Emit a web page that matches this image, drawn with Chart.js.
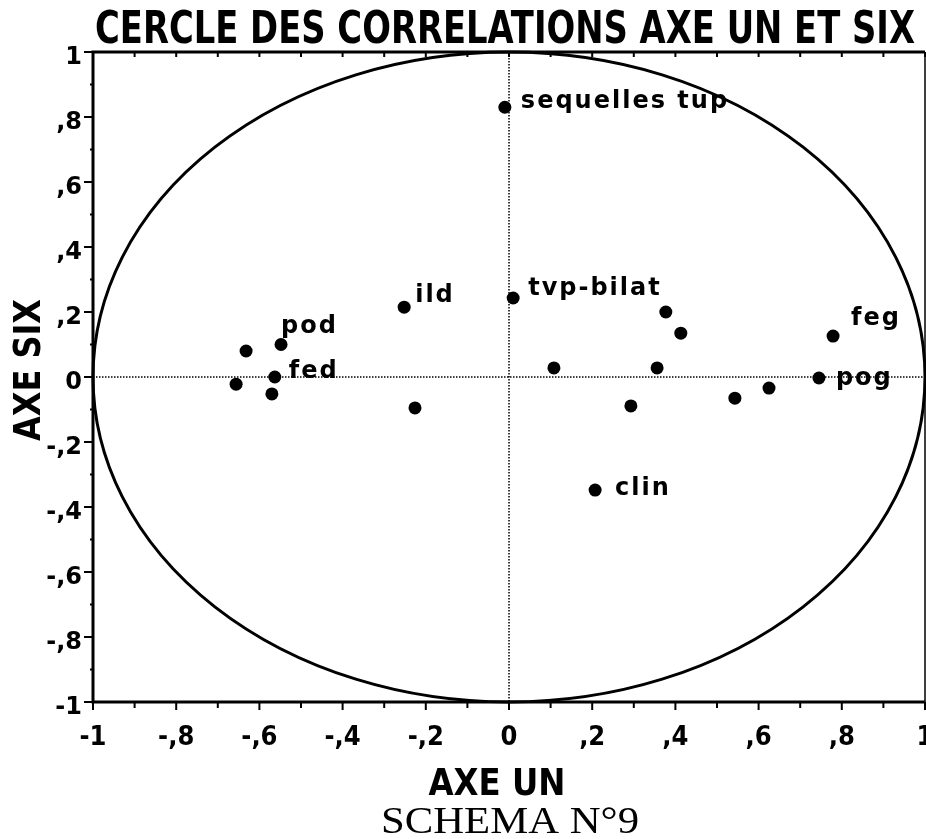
<!DOCTYPE html>
<html>
<head>
<meta charset="utf-8">
<script src="https://cdn.jsdelivr.net/npm/chart.js@4/dist/chart.umd.min.js"></script>
<style>
html,body{margin:0;padding:0;background:#fff;}
#c{display:block;}
</style>
</head>
<body>
<canvas id="c" width="926" height="839"></canvas>
<script>
// ---- data ----
const pointNames = ['sequelles tup','tvp-bilat','ild','pod','','fed','','','','','','','','','','','pog','feg','clin'];
const axeUn  = [-0.01, 0.01, -0.252, -0.548, -0.632, -0.563, -0.656, -0.570, -0.226, 0.108, 0.377, 0.413, 0.356, 0.293, 0.543, 0.625, 0.745, 0.779, 0.207];
const axeSix = [0.83, 0.243, 0.215, 0.10, 0.08, 0.0, -0.022, -0.052, -0.095, 0.028, 0.20, 0.135, 0.028, -0.089, -0.065, -0.034, -0.003, 0.126, -0.348];
const tickValues = [-1, -0.8, -0.6, -0.4, -0.2, 0, 0.2, 0.4, 0.6, 0.8, 1];
const xTickLabels = ['-1','-,8','-,6','-,4','-,2','0',',2',',4',',6',',8','1'];
const yTickLabels = ['-1','-,8','-,6','-,4','-,2','0',',2',',4',',6',',8','1'];
const titleText = 'CERCLE DES CORRELATIONS AXE UN ET SIX';
const xTitle = 'AXE UN';
const yTitle = 'AXE SIX';
const captionText = 'SCHEMA N°9';

// label placement (pixel offsets from the point: text left, baseline)
const labelOffsets = {
  'sequelles tup':[16,1], 'tvp-bilat':[15,-3], 'ild':[11,-5], 'pod':[0,-12],
  'fed':[14,1], 'feg':[18,-11], 'pog':[17,7], 'clin':[20,5]
};

const points = axeUn.map((x,i)=>({x:x, y:axeSix[i], name:pointNames[i]}));

function fitText(ctx, text, x, y, targetW, align){
  const w = ctx.measureText(text).width;
  const sx = targetW / w;
  ctx.save();
  ctx.translate(x, y);
  ctx.scale(sx, 1);
  ctx.textAlign = align || 'center';
  ctx.fillText(text, 0, 0);
  ctx.restore();
}

const decor = {
  id:'decor',
  beforeDatasetsDraw(chart){
    const ctx = chart.ctx, xs = chart.scales.x, ys = chart.scales.y;
    const ca = chart.chartArea;
    ctx.save();
    ctx.strokeStyle = '#000';
    ctx.lineWidth = 1.5;
    ctx.setLineDash([1.5,1.5]);
    const x0 = xs.getPixelForValue(0), y0 = ys.getPixelForValue(0);
    ctx.beginPath();
    ctx.moveTo(ca.left, y0); ctx.lineTo(ca.right, y0);
    ctx.moveTo(x0, ca.top); ctx.lineTo(x0, ca.bottom);
    ctx.stroke();
    ctx.setLineDash([]);
    const rx = xs.getPixelForValue(1) - x0;
    const ry = ys.getPixelForValue(-1) - y0;
    ctx.lineWidth = 3;
    ctx.beginPath();
    ctx.ellipse(x0, y0, rx, ry, 0, 0, Math.PI*2);
    ctx.stroke();
    ctx.restore();
  },
  afterDraw(chart){
    const ctx = chart.ctx, xs = chart.scales.x, ys = chart.scales.y;
    const ca = chart.chartArea;
    ctx.save();
    ctx.strokeStyle = '#000';
    ctx.fillStyle = '#000';
    // frame
    ctx.lineWidth = 3;
    ctx.beginPath();
    ctx.moveTo(ca.left, ca.top); ctx.lineTo(ca.right, ca.top);
    ctx.moveTo(ca.left, ca.top - 1.5); ctx.lineTo(ca.left, ca.bottom + 1.5);
    ctx.moveTo(ca.left, ca.bottom); ctx.lineTo(ca.right, ca.bottom);
    ctx.stroke();
    ctx.lineWidth = 1.5;
    ctx.beginPath();
    ctx.moveTo(ca.right, ca.top); ctx.lineTo(ca.right, ca.bottom);
    ctx.stroke();
    // tick marks every 0.1
    ctx.lineWidth = 2;
    ctx.beginPath();
    for (let k=-10;k<=10;k++){
      const v = k/10;
      const px = xs.getPixelForValue(v), py = ys.getPixelForValue(v);
      const major = (k%2===0);
      ctx.moveTo(px, ca.bottom); ctx.lineTo(px, ca.bottom + (major?8:6));
      ctx.moveTo(px, ca.top); ctx.lineTo(px, ca.top + 5);
      ctx.moveTo(ca.left, py); ctx.lineTo(ca.left - (major?9:3), py);
    }
    ctx.stroke();
    // tick labels
    ctx.textBaseline = 'alphabetic';
    ctx.font = 'bold 27px "DejaVu Sans Condensed", "DejaVu Sans", sans-serif';
    tickValues.forEach((v,i)=>{
      const px = xs.getPixelForValue(v);
      ctx.textAlign = 'center';
      ctx.fillText(xTickLabels[i], px, 745);
    });
    ctx.font = 'bold 24px "DejaVu Sans", sans-serif';
    tickValues.forEach((v,i)=>{
      const py = ys.getPixelForValue(v);
      ctx.textAlign = 'right';
      ctx.fillText(yTickLabels[i], 82, py + 12);
    });
    // title
    ctx.font = 'bold 44px "DejaVu Sans Condensed", "DejaVu Sans", sans-serif';
    fitText(ctx, titleText, 505, 43, 820, 'center');
    // x axis title
    ctx.font = 'bold 37px "DejaVu Sans Condensed", "DejaVu Sans", sans-serif';
    fitText(ctx, xTitle, 497, 795, 137, 'center');
    // y axis title
    ctx.save();
    ctx.translate(40, 370);
    ctx.rotate(-Math.PI/2);
    fitText(ctx, yTitle, 0, 0, 142, 'center');
    ctx.restore();
    // caption
    ctx.font = '38px "Liberation Serif", "Times New Roman", serif';
    fitText(ctx, captionText, 510, 833, 258, 'center');
    // point labels
    ctx.font = 'bold 24px "DejaVu Sans", sans-serif';
    ctx.textAlign = 'left';
    try { ctx.letterSpacing = '2px'; } catch(e){}
    const meta = chart.getDatasetMeta(0);
    meta.data.forEach((el,i)=>{
      const name = points[i].name;
      if (!name) return;
      const off = labelOffsets[name] || [12,0];
      ctx.fillText(name, el.x + off[0], el.y + off[1]);
    });
    ctx.restore();
  }
};

new Chart(document.getElementById('c'), {
  type:'scatter',
  data:{ datasets:[{ data:points, pointRadius:6.5, pointHoverRadius:6.5, backgroundColor:'#000', borderColor:'#000', borderWidth:0 }] },
  options:{
    responsive:false, animation:false,
    layout:{ autoPadding:false, padding:{ left:93, top:52, right:1, bottom:137 } },
    plugins:{ legend:{display:false}, title:{display:false}, tooltip:{enabled:false} },
    scales:{
      x:{ type:'linear', min:-1, max:1, display:false },
      y:{ type:'linear', min:-1, max:1, display:false }
    }
  },
  plugins:[decor]
});
</script>
</body>
</html>
